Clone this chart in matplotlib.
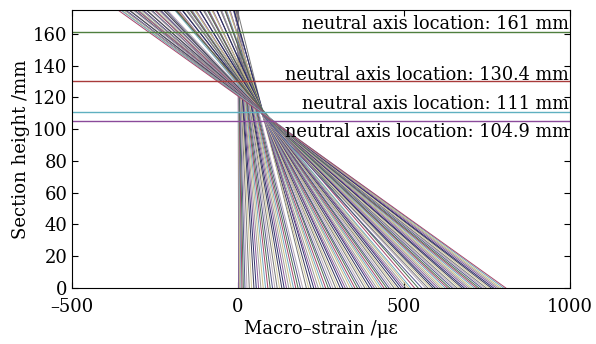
import matplotlib.pyplot as plt

# strain profiles: strain at bottom (y=0) and top (y=175) of the section, per load step
section_y = [0, 175]

bottom_strain = [0, 2, 4, 6, 9, 12, 16, 21, 27, 34, 41, 48, 55, 62, 69, 76, 83,
                 90, 97, 104, 111, 118, 125, 132, 139, 146, 153, 160, 167, 174,
                 181, 188, 195,
                 206, 213, 220, 228, 235, 242, 250, 257, 264, 272, 279, 286, 294,
                 301, 308, 316, 323, 330, 338, 345, 352, 360, 367, 374, 382, 389,
                 396, 404, 411, 418, 426, 433, 440, 448, 455, 462, 470, 477, 484,
                 492, 499, 506, 514, 521, 532, 543, 554,
                 565, 572, 580, 587, 594, 602, 609, 616, 624, 631, 638, 646, 653,
                 660, 668, 675, 682, 690, 697, 704, 712, 719, 726, 734, 741, 748,
                 756, 763, 770, 778, 785, 792, 800, 807]

top_strain = [0, 0, 0, 0, -1, -1, -1, -1, -2, -2, -3, -3, -4, -4, -5, -5, -6,
              -6, -7, -7, -8, -8, -9, -9, -10, -10, -11, -11, -12, -12,
              -13, -13, -14,
              -2, -10, -12, -13, -24, -26, -27, -35, -38, -40, -50, -50, -53,
              -64, -64, -65, -76, -78, -79, -88, -90, -93, -102, -102, -105, -116,
              -116, -117, -127, -130, -131, -139, -142, -145, -153, -153, -157, -167, -168,
              -169, -179, -182, -183, -191, -186, -188, -217,
              -213, -222, -224, -225, -234, -238, -239, -247, -250, -252, -261, -262, -265,
              -275, -276, -277, -287, -290, -291, -299, -302, -305, -312, -314, -317, -327,
              -328, -329, -339, -342, -343, -351, -354, -362]

neutral_axis = [161, 130.4, 111, 104.9]
na_labels = ['neutral axis location: 161 mm', 'neutral axis location: 130.4 mm',
             'neutral axis location: 111 mm', 'neutral axis location: 104.9 mm']
na_colors = ['#4f7f3f', '#a83a3a', '#5fb0c0', '#8a4a9a']
label_y = [166, 134, 116, 98]

palette = ['#2e2e6e', '#8a5a9a', '#9c9c9c', '#c9bd85', '#70a8bc', '#a5466a',
           '#4a6f50', '#55558a', '#b8a8b8', '#7a7a7a', '#d0c89a', '#3a3a5a']

plt.rcParams['font.family'] = 'DejaVu Serif'
plt.rcParams['mathtext.fontset'] = 'dejavuserif'

fig = plt.figure(figsize=(5.96, 3.44), dpi=100)
ax = fig.add_axes([0.121, 0.163, 0.835, 0.808])

for i, (b, t) in enumerate(zip(bottom_strain, top_strain)):
    ax.plot([b, t], section_y, color=palette[i % len(palette)], lw=0.7)

for yn, lab, c, ly in zip(neutral_axis, na_labels, na_colors, label_y):
    ax.axhline(yn, color=c, lw=1.0)
    ax.text(998, ly, lab, ha='right', va='center', fontsize=12.8)

ax.set_xlim(-500, 1000)
ax.set_ylim(0, 175)
ax.set_xticks([-500, 0, 500, 1000])
ax.set_xticklabels(['\u2013500', '0', '500', '1000'])
ax.set_yticks(range(0, 161, 20))
ax.tick_params(direction='in', length=4, labelsize=13, top=True, right=True)
ax.tick_params(axis='x', pad=7)
ax.set_xlabel('Macro\u2013strain /\u03bc\u03b5', fontsize=13, labelpad=3)
ax.set_ylabel('Section height /mm', fontsize=13, labelpad=2)

fig.savefig('out.png', dpi=100)
